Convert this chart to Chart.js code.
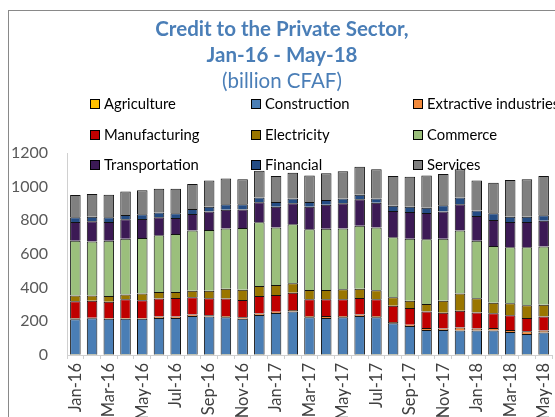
<!DOCTYPE html>
<html>
<head>
<meta charset="utf-8">
<script src="https://cdn.jsdelivr.net/npm/chart.js@4/dist/chart.umd.min.js"></script>
<style>
  html, body { margin: 0; padding: 0; width: 555px; height: 417px; overflow: hidden; background: #fff; }
  #frame { position: absolute; left: 8px; top: 10px; width: 620px; height: 460px; border: 1px solid #898989; }
  #wrap { position: absolute; left: 0; top: 0; width: 555px; height: 417px; }
  #title { position: absolute; left: 0; top: 15px; width: 564px; text-align: center; font-family: Lato, sans-serif; color: #4A7EB7; font-size: 20.5px; line-height: 26px; }
  #title b { font-weight: 700; }
  .leg { position: absolute; font-family: Lato, sans-serif; font-size: 14.8px; color: #000; white-space: nowrap; line-height: 18px; }
  .leg i { display: inline-block; width: 8px; height: 8px; border: 1px solid #000; margin-right: 4px; vertical-align: 0px; }
</style>
</head>
<body>
<div id="frame"></div>
<div id="wrap"><canvas id="credit-chart" width="555" height="417"></canvas></div>
<div id="title"><b>Credit to the Private Sector,</b><br><b>Jan-16 - May-18</b><br>(billion CFAF)</div>
<div id="legend"></div>
<script>
const months = ["Jan-16", "Feb-16", "Mar-16", "Apr-16", "May-16", "Jun-16", "Jul-16", "Aug-16", "Sep-16", "Oct-16",
    "Nov-16", "Dec-16", "Jan-17", "Feb-17", "Mar-17", "Apr-17", "May-17", "Jun-17", "Jul-17", "Aug-17",
    "Sep-17", "Oct-17", "Nov-17", "Dec-17", "Jan-18", "Feb-18", "Mar-18", "Apr-18", "May-18"];

// billion CFAF, by sector
const agriculture = [3, 3, 3, 3, 3, 3, 3, 3, 3, 3, 3, 3, 3, 3, 3, 3, 3, 3, 3, 3, 3, 3, 3, 3, 3, 3, 3, 3, 3];
const construction = [209, 215, 213, 213, 213, 217, 217, 229, 225, 221, 213, 235, 247, 256, 221, 217, 221, 229, 221, 185,
    169, 146, 146, 142, 142, 142, 134, 122, 130];
const extractive = [6, 4, 4, 4, 4, 8, 8, 8, 8, 8, 8, 8, 7, 8, 8, 12, 8, 8, 8, 8, 8, 11, 9, 19, 13, 15, 12, 16, 12];
const manufacturing = [101, 101, 97, 111, 105, 107, 111, 103, 101, 103, 103, 104, 99, 103, 99, 99, 99, 99, 99, 97,
    99, 99, 93, 99, 95, 88, 87, 79, 83];
const electricity = [35, 31, 33, 29, 41, 39, 35, 39, 45, 59, 61, 60, 60, 56, 55, 55, 59, 55, 53, 50,
    44, 44, 72, 103, 84, 63, 71, 75, 71];
const commerce = [325, 321, 329, 331, 329, 337, 345, 357, 361, 358, 366, 378, 342, 350, 361, 364, 362, 374, 374, 356,
    368, 384, 368, 373, 342, 337, 333, 345, 345];
const transportation = [111, 119, 111, 115, 113, 107, 95, 99, 110, 111, 111, 119, 123, 125, 134, 143, 149, 157, 147, 156,
    159, 157, 162, 156, 147, 154, 150, 150, 154];
const financial = [28, 28, 28, 26, 28, 28, 28, 29, 28, 32, 30, 28, 28, 28, 28, 28, 28, 27, 24, 32,
    31, 31, 36, 40, 33, 40, 32, 32, 32];
const services = [132, 134, 134, 140, 142, 142, 146, 149, 155, 153, 149, 160, 154, 154, 158, 158, 162, 167, 174, 176,
    178, 192, 186, 168, 177, 182, 218, 222, 233];

const yTicks = [0, 200, 400, 600, 800, 1000, 1200];

const sectors = [
    { label: "Agriculture", data: agriculture, color: "#FFC000" },
    { label: "Construction", data: construction, color: "#4A7EB5" },
    { label: "Extractive industries", data: extractive, color: "#F28A3C" },
    { label: "Manufacturing", data: manufacturing, color: "#C00000" },
    { label: "Electricity", data: electricity, color: "#9A7600" },
    { label: "Commerce", data: commerce, color: "#9BBF7C" },
    { label: "Transportation", data: transportation, color: "#3C1A55" },
    { label: "Financial", data: financial, color: "#244C84" },
    { label: "Services", data: services, color: "#808080" },
];

// legend: three columns, three rows
const legendCols = [90, 251, 413];
const legendRows = [94, 125, 155];
const legendBox = document.getElementById("legend");
sectors.forEach(function (s, i) {
    const item = document.createElement("div");
    item.className = "leg";
    item.style.left = legendCols[i % 3] + "px";
    item.style.top = legendRows[Math.floor(i / 3)] + "px";
    item.innerHTML = '<i style="background:' + s.color + '"></i>' + s.label;
    legendBox.appendChild(item);
});

const ctx = document.getElementById("credit-chart");

new Chart(ctx, {
    type: "bar",
    data: {
        labels: months,
        datasets: sectors.map(function (s) {
            return {
                label: s.label,
                data: s.data,
                backgroundColor: s.color,
                borderColor: "#111",
                borderWidth: 1,
                categoryPercentage: 1,
                barPercentage: 0.63,
            };
        }),
    },
    options: {
        responsive: false,
        animation: false,
        layout: { padding: { left: 0, right: 3, top: 153, bottom: 0 } },
        plugins: {
            legend: { display: false },
            title: { display: false },
            tooltip: { enabled: false },
        },
        scales: {
            x: {
                stacked: true,
                border: { color: "#D0D0D0", width: 1 },
                grid: { display: true, drawOnChartArea: false, tickLength: 4, color: "#D0D0D0" },
                ticks: {
                    autoSkip: false,
                    minRotation: 90,
                    maxRotation: 90,
                    padding: 4,
                    color: "#404040",
                    font: { family: "Lato", size: 16.5 },
                    callback: function (value, index) {
                        return index % 2 === 0 ? months[index] : "";
                    },
                },
                afterFit: function (scale) {
                    scale.height = 62;
                    scale.paddingLeft = 0;
                    scale.paddingRight = 0;
                },
            },
            y: {
                stacked: true,
                min: 0,
                max: 1200,
                border: { color: "#D0D0D0", width: 1 },
                grid: { display: false, drawTicks: false },
                afterBuildTicks: function (scale) {
                    scale.ticks = yTicks.map(function (v) { return { value: v }; });
                },
                ticks: {
                    padding: 19,
                    color: "#595959",
                    font: { family: "Lato", size: 16 },
                    callback: function (value) {
                        return String(value);
                    },
                },
                afterFit: function (scale) {
                    scale.width = 67;
                },
            },
        },
    },
});
</script>
</body>
</html>
